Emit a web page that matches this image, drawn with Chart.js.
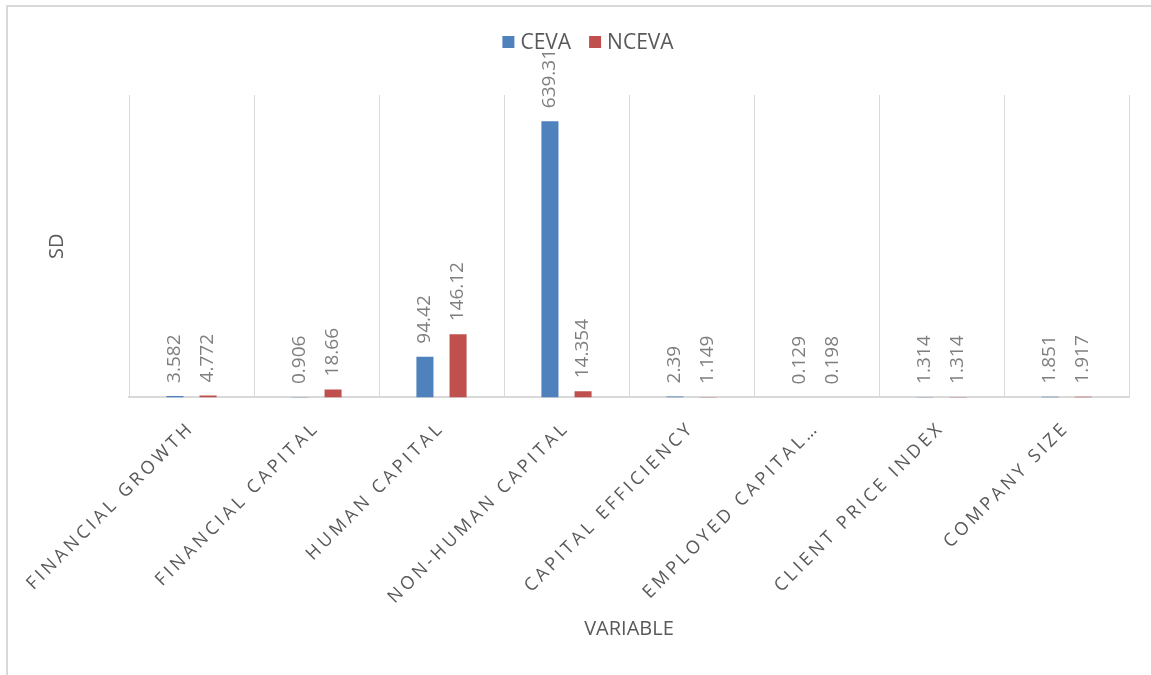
<!DOCTYPE html>
<html>
<head>
<meta charset="utf-8">
<script src="https://cdn.jsdelivr.net/npm/chart.js@4/dist/chart.umd.min.js"></script>
<style>
    html, body { margin: 0; padding: 0; background: #fff; overflow: hidden; }
    #frame { position: absolute; left: 6px; top: 5px; width: 1200px; height: 720px; border: 2px solid #d9d9d9; }
    #wrap { position: absolute; left: 0; top: 0; width: 1151px; height: 675px; }
</style>
</head>
<body>
<div id="frame"></div>
<div id="wrap"><canvas id="chart"></canvas></div>
<script>
const categories = ['FINANCIAL GROWTH', 'FINANCIAL CAPITAL', 'HUMAN CAPITAL', 'NON-HUMAN CAPITAL',
    'CAPITAL EFFICIENCY', 'EMPLOYED CAPITAL…', 'CLIENT PRICE INDEX', 'COMPANY SIZE'];
const cevaValues = [3.582, 0.906, 94.42, 639.31, 2.39, 0.129, 1.314, 1.851];
const ncevaValues = [4.772, 18.66, 146.12, 14.354, 1.149, 0.198, 1.314, 1.917];
const seriesNames = ['CEVA', 'NCEVA'];
const xTitle = 'VARIABLE';
const yTitle = 'SD';

const FONT = '"Open Sans", sans-serif';
const TEXT_COLOR = '#595959';
const LABEL_COLOR = '#7f7f7f';
const TICK_SPACING = '3.5px';

// tick labels in the original are letter-spaced, the rest is not
const spacingPlugin = {
    id: 'spacing',
    beforeLayout(chart) { chart.ctx.letterSpacing = TICK_SPACING; },
    beforeDraw(chart) { chart.ctx.letterSpacing = TICK_SPACING; }
};

const valueLabels = {
    id: 'valueLabels',
    afterDatasetsDraw(chart) {
        let ctx = chart.ctx;
        ctx.save();
        ctx.letterSpacing = '0px';
        ctx.font = '19px ' + FONT;
        ctx.fillStyle = LABEL_COLOR;
        ctx.textAlign = 'left';
        ctx.textBaseline = 'middle';
        chart.data.datasets.forEach((ds, i) => {
            let meta = chart.getDatasetMeta(i);
            meta.data.forEach((bar, j) => {
                ctx.save();
                ctx.translate(bar.x, bar.y - 13);
                ctx.rotate(-Math.PI / 2);
                ctx.fillText(String(ds.data[j]), 0, 0);
                ctx.restore();
            });
        });
        ctx.restore();
    }
};

const chartText = {
    id: 'chartText',
    afterDraw(chart) {
        let ctx = chart.ctx;
        let area = chart.chartArea;
        ctx.save();
        ctx.letterSpacing = '0px';
        ctx.fillStyle = TEXT_COLOR;

        // legend, centred on the outer frame like the original
        ctx.font = '21px ' + FONT;
        ctx.textBaseline = 'middle';
        ctx.textAlign = 'left';
        let box = 12, gap = 6, itemGap = 18;
        let items = chart.data.datasets.map(ds => ({ text: ds.label, color: ds.backgroundColor, w: ctx.measureText(ds.label).width }));
        let total = items.reduce((s, it) => s + box + gap + it.w, 0) + itemGap * (items.length - 1);
        let x = 588 - total / 2;
        let y = 42;
        for (let it of items) {
            ctx.fillStyle = it.color;
            ctx.fillRect(x, y - box / 2, box, box);
            ctx.fillStyle = TEXT_COLOR;
            ctx.fillText(it.text, x + box + gap, y + 1);
            x += box + gap + it.w + itemGap;
        }

        // axis titles
        ctx.font = '20px ' + FONT;
        ctx.textAlign = 'center';
        ctx.fillText(xTitle, (area.left + area.right) / 2, 629);
        ctx.save();
        ctx.translate(57, (area.top + area.bottom) / 2);
        ctx.rotate(-Math.PI / 2);
        ctx.fillText(yTitle, 0, 0);
        ctx.restore();
        ctx.restore();
    }
};

new Chart(document.getElementById('chart'), {
    type: 'bar',
    data: {
        labels: categories,
        datasets: [
            { label: seriesNames[0], data: cevaValues, backgroundColor: '#4f81bd' },
            { label: seriesNames[1], data: ncevaValues, backgroundColor: '#c0504d' }
        ]
    },
    options: {
        responsive: true,
        maintainAspectRatio: false,
        animation: false,
        layout: { padding: { left: 129, right: 22, top: 95, bottom: 47 } },
        datasets: { bar: { categoryPercentage: 0.53, barPercentage: 0.515 } },
        plugins: { legend: { display: false }, tooltip: { enabled: false } },
        scales: {
            x: {
                offset: true,
                grid: { display: true, offset: true, color: '#d9d9d9', lineWidth: 1, drawTicks: false },
                border: { display: true, color: '#d9d9d9', width: 2 },
                ticks: {
                    autoSkip: false, maxRotation: 45, minRotation: 45, padding: 20,
                    color: TEXT_COLOR, font: { family: FONT, size: 18 }
                }
            },
            y: { display: false, min: 0, max: 700 }
        }
    },
    plugins: [spacingPlugin, valueLabels, chartText]
});
</script>
</body>
</html>
